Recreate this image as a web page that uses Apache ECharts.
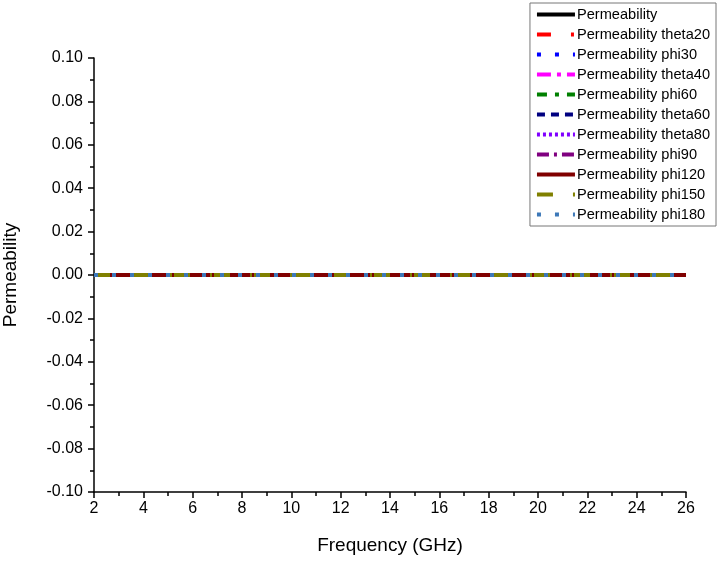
<!DOCTYPE html>
<html>
<head>
<meta charset="utf-8">
<script src="https://cdn.jsdelivr.net/npm/echarts@6/dist/echarts.min.js"></script>
<style>
html, body { margin: 0; padding: 0; background: #fff; }
#chart { width: 724px; height: 561px; }
</style>
</head>
<body>
<div id="chart"></div>
<script>
// frequency samples (GHz)
var frequency = [2, 4, 6, 8, 10, 12, 14, 16, 18, 20, 22, 24, 26];
// permeability values (all flat at zero)
var permeability = [0, 0, 0, 0, 0, 0, 0, 0, 0, 0, 0, 0, 0];
var permTheta20 = [0, 0, 0, 0, 0, 0, 0, 0, 0, 0, 0, 0, 0];
var permPhi30 = [0, 0, 0, 0, 0, 0, 0, 0, 0, 0, 0, 0, 0];
var permTheta40 = [0, 0, 0, 0, 0, 0, 0, 0, 0, 0, 0, 0, 0];
var permPhi60 = [0, 0, 0, 0, 0, 0, 0, 0, 0, 0, 0, 0, 0];
var permTheta60 = [0, 0, 0, 0, 0, 0, 0, 0, 0, 0, 0, 0, 0];
var permTheta80 = [0, 0, 0, 0, 0, 0, 0, 0, 0, 0, 0, 0, 0];
var permPhi90 = [0, 0, 0, 0, 0, 0, 0, 0, 0, 0, 0, 0, 0];
var permPhi120 = [0, 0, 0, 0, 0, 0, 0, 0, 0, 0, 0, 0, 0];
var permPhi150 = [0, 0, 0, 0, 0, 0, 0, 0, 0, 0, 0, 0, 0];
var permPhi180 = [0, 0, 0, 0, 0, 0, 0, 0, 0, 0, 0, 0, 0];

var seriesNames = ['Permeability', 'Permeability theta20', 'Permeability phi30',
	'Permeability theta40', 'Permeability phi60', 'Permeability theta60',
	'Permeability theta80', 'Permeability phi90', 'Permeability phi120',
	'Permeability phi150', 'Permeability phi180'];
var seriesValues = [permeability, permTheta20, permPhi30, permTheta40, permPhi60,
	permTheta60, permTheta80, permPhi90, permPhi120, permPhi150, permPhi180];
var seriesColors = ['#000000', '#ff0000', '#0000ff', '#ff00ff', '#008000', '#000080',
	'#8000ff', '#800080', '#800000', '#808000', '#3d78b8'];
var seriesDash = ['solid', [14, 20, 3, 3], [4, 14], [14, 6, 4, 6], [10, 8, 4, 8], [8, 6],
	[3, 3], [12, 5, 3, 5], 'solid', [16, 20, 2, 2], [4, 14]];

var myChart = echarts.init(document.getElementById('chart'));

var series = [];
for (var i = 0; i < seriesNames.length; i++) {
	var pts = [];
	for (var j = 0; j < frequency.length; j++) {
		pts.push([frequency[j], seriesValues[i][j]]);
	}
	series.push({
		name : seriesNames[i],
		type : 'line',
		symbol : 'none',
		data : pts,
		color : seriesColors[i],
		lineStyle : {
			width : 4,
			color : seriesColors[i],
			type : seriesDash[i]
		}
	});
}

var option = {
	animation : false,
	textStyle : {
		fontFamily : 'Arial, Liberation Sans, sans-serif'
	},
	grid : {
		left : 94,
		top : 58,
		right : 38,
		bottom : 69,
		containLabel : false,
		outerBoundsMode : 'none'
	},
	legend : {
		orient : 'vertical',
		right : 8,
		top : 3,
		icon : 'inherit',
		itemWidth : 38,
		itemHeight : 10,
		itemGap : 5,
		padding : [4, 6, 4, 5],
		borderColor : '#777',
		borderWidth : 1,
		backgroundColor : '#fff',
		itemStyle : { opacity : 0 },
		lineStyle : { width : 4 },
		textStyle : {
			fontSize : 14.6,
			lineHeight : 14,
			color : '#000',
			padding : [0, 0, 0, -3]
		},
		data : seriesNames
	},
	xAxis : {
		type : 'value',
		min : 2,
		max : 26,
		interval : 2,
		name : 'Frequency (GHz)',
		nameLocation : 'middle',
		nameGap : 44,
		nameTextStyle : {
			fontSize : 19,
			color : '#000'
		},
		axisLine : {
			onZero : false,
			lineStyle : { color : '#000', width : 1.5 }
		},
		axisTick : {
			length : 6,
			lineStyle : { color : '#000', width : 1.5 }
		},
		minorTick : {
			show : true,
			splitNumber : 2,
			length : 4,
			lineStyle : { color : '#000', width : 1.5 }
		},
		axisLabel : {
			fontSize : 16,
			color : '#000',
			margin : 9
		},
		splitLine : { show : false }
	},
	yAxis : {
		type : 'value',
		min : -0.1,
		max : 0.1,
		interval : 0.02,
		name : 'Permeability',
		nameLocation : 'middle',
		nameGap : 74,
		nameTextStyle : {
			fontSize : 19,
			color : '#000'
		},
		axisLine : {
			show : true,
			onZero : false,
			lineStyle : { color : '#000', width : 1.5 }
		},
		axisTick : {
			show : true,
			length : 6,
			lineStyle : { color : '#000', width : 1.5 }
		},
		minorTick : {
			show : true,
			splitNumber : 2,
			length : 4,
			lineStyle : { color : '#000', width : 1.5 }
		},
		axisLabel : {
			fontSize : 16,
			color : '#000',
			margin : 11,
			formatter : function(v) {
				return v.toFixed(2);
			}
		},
		splitLine : { show : false }
	},
	series : series
};
myChart.setOption(option);
</script>
</body>
</html>
